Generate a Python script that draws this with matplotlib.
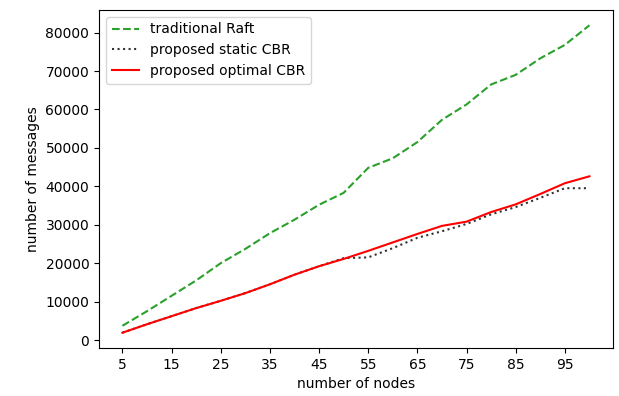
import matplotlib
matplotlib.use("Agg")
import matplotlib.pyplot as plt

# Message counts per cluster size
nodes = [5, 10, 15, 20, 25, 30, 35, 40, 45, 50, 55, 60, 65, 70, 75, 80, 85, 90, 95, 100]
raft_msgs = [3700, 7500, 11500, 15500, 20000, 23700, 27800, 31300, 35200, 38300,
             44800, 47300, 51500, 57300, 61300, 66500, 69000, 73300, 76800, 81900]
static_cbr_msgs = [1900, 4100, 6200, 8300, 10200, 12200, 14500, 17000, 19200, 21300,
                   21500, 23900, 26600, 28300, 30200, 32700, 34600, 37000, 39500, 39500]
optimal_cbr_msgs = [1900, 4100, 6200, 8300, 10200, 12200, 14500, 17000, 19200, 21100,
                    23200, 25400, 27600, 29700, 30800, 33300, 35300, 38000, 40800, 42600]
xtick_vals = [5, 15, 25, 35, 45, 55, 65, 75, 85, 95]

fig = plt.figure(figsize=(6.19, 3.96), dpi=100)
ax = fig.add_axes([0.16, 0.121, 0.83, 0.854])

ax.plot(nodes, raft_msgs, '--', color='tab:green', label='traditional Raft')
ax.plot(nodes, static_cbr_msgs, ':', color='#333333', label='proposed static CBR')
ax.plot(nodes, optimal_cbr_msgs, '-', color='red', label='proposed optimal CBR')

ax.set_xticks(xtick_vals)
ax.set_xlabel("number of nodes")
ax.set_ylabel("number of messages")
ax.legend(loc='upper left')

fig.savefig("out.png", dpi=100)
